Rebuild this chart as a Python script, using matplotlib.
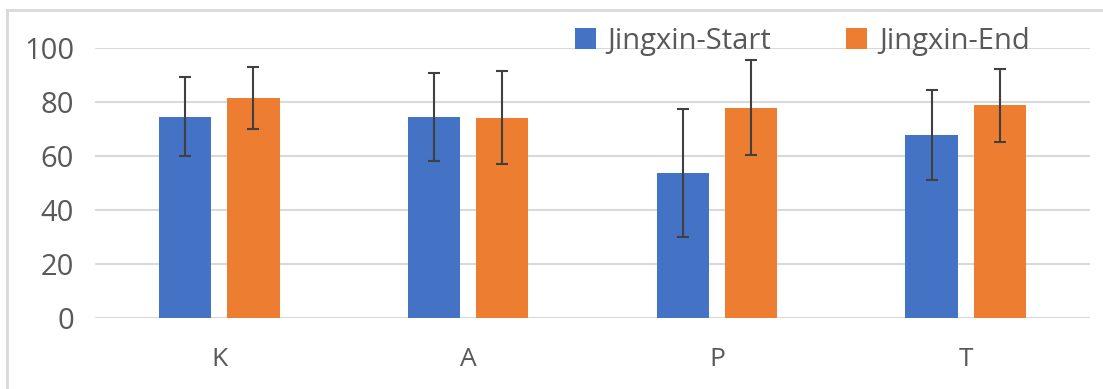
import matplotlib
matplotlib.use("Agg")
import matplotlib.pyplot as plt
from matplotlib.lines import Line2D
import numpy as np

categories = ["K", "A", "P", "T"]
series_names = ["Jingxin-Start", "Jingxin-End"]
start_vals = [74.6, 74.6, 53.9, 67.9]
start_err = [14.6, 16.3, 23.7, 16.6]
end_vals = [81.5, 74.3, 78.0, 78.9]
end_err = [11.5, 17.3, 17.5, 13.5]
yticks = [0, 20, 40, 60, 80, 100]

blue = "#4472C4"
orange = "#ED7D31"
text_color = "#595959"
grid_color = "#D9D9D9"

plt.rcParams["font.family"] = ["Open Sans", "DejaVu Sans"]

fig = plt.figure(figsize=(11.03, 3.89), dpi=100)
ax = fig.add_axes([95 / 1103, 1 - 318 / 389, 995 / 1103, (318 - 48.3) / 389])

x = np.arange(len(categories))
w = 0.21
off = 0.137
ekw = dict(ecolor="#404040", elinewidth=1.5, capsize=4, capthick=1.5)
ax.bar(x - off, start_vals, w, color=blue, yerr=start_err, error_kw=ekw,
       label=series_names[0], zorder=3)
ax.bar(x + off, end_vals, w, color=orange, yerr=end_err, error_kw=ekw,
       label=series_names[1], zorder=3)

ax.set_xlim(-0.5, len(categories) - 0.5)
ax.set_ylim(0, 100)
ax.set_yticks(yticks)
ax.set_xticks(x)
ax.set_xticklabels(categories)
ax.grid(axis="y", color=grid_color, linewidth=1.5, zorder=0)
ax.set_axisbelow(True)
for s in ax.spines.values():
    s.set_visible(False)
ax.tick_params(axis="both", length=0, colors=text_color, labelsize=21)
ax.tick_params(axis="y", pad=15)
ax.tick_params(axis="x", pad=21, labelsize=19)

fs = 21
em = fs * 100 / 72.0
leg = ax.legend(ncol=2, loc="center right", bbox_to_anchor=(1030 / 1103, 1 - 41 / 389),
                bbox_transform=fig.transFigure, frameon=False, fontsize=fs,
                borderpad=0, borderaxespad=0,
                handlelength=21 / em, handleheight=21 / em, handletextpad=12 / em,
                columnspacing=75 / em, labelcolor=text_color)

# outer chart border (cropped at right and bottom)
fig.add_artist(Line2D([7 / 1103, 7 / 1103], [0, 1 - 10 / 389], transform=fig.transFigure,
                      color=grid_color, linewidth=2))
fig.add_artist(Line2D([7 / 1103, 1], [1 - 10 / 389, 1 - 10 / 389], transform=fig.transFigure,
                      color=grid_color, linewidth=2))

fig.savefig("out.png", dpi=100)
